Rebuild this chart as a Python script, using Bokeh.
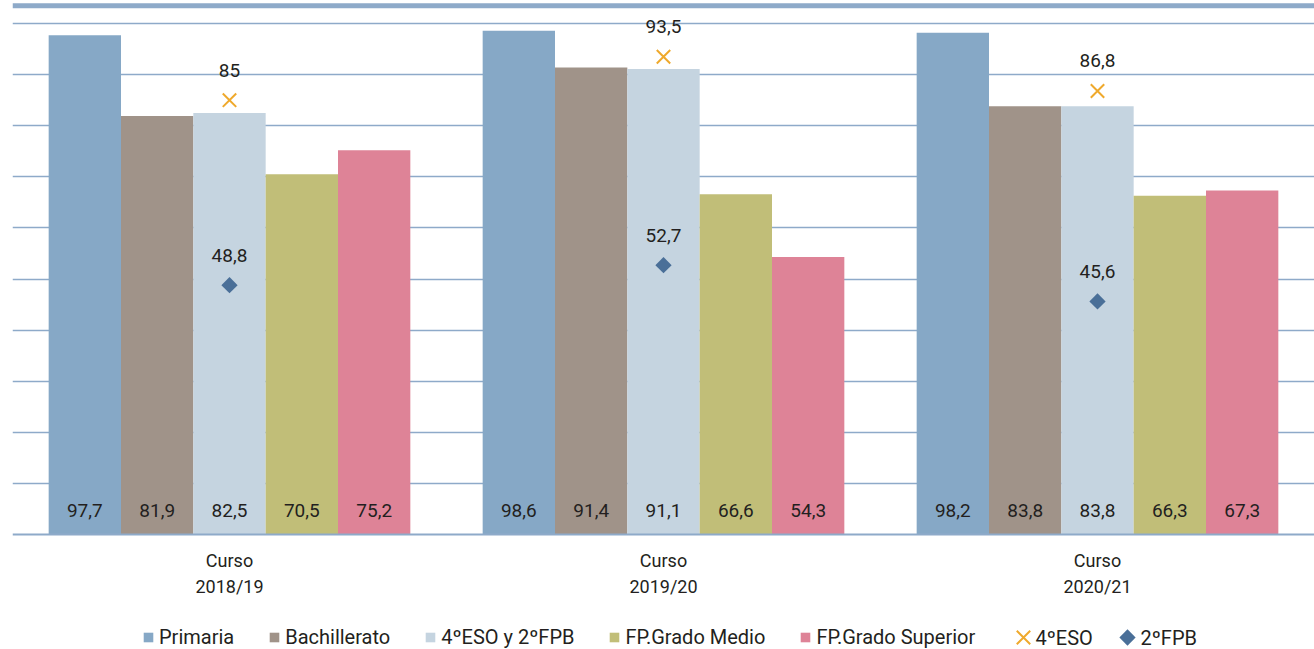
import math
from bokeh.plotting import figure
from bokeh.models import (ColumnDataSource, FixedTicker, Span, Legend, LegendItem)
from bokeh.core.properties import value
from bokeh.embed import file_html
from bokeh.resources import INLINE

# ---- data ----
course_top = ["Curso", "Curso", "Curso"]
course_bottom = ["2018/19", "2019/20", "2020/21"]
series = ["Primaria", "Bachillerato", "4ºESO y 2ºFPB", "FP.Grado Medio", "FP.Grado Superior"]
primaria = [97.7, 98.6, 98.2]
bachillerato = [81.9, 91.4, 83.8]
eso_fpb = [82.5, 91.1, 83.8]
fp_medio = [70.5, 66.6, 66.3]
fp_superior = [75.2, 54.3, 67.3]
eso4 = [85, 93.5, 86.8]
fpb2 = [48.8, 52.7, 45.6]
marker_series = ["4ºESO", "2ºFPB"]

colors = ["#86a8c6", "#a09389", "#c5d4e0", "#c1be78", "#de8397"]
x_color = "#efa92c"
d_color = "#4a6f98"
grid_color = "#8eaac9"
txt_color = "#231f20"
FONT = "Roboto"

def fmt(v):
    if float(v).is_integer():
        return str(int(v))
    return f"{v:.1f}".replace(".", ",")

W, H = 1314, 649
LEFT = 12
PX = 5.11            # pixels per unit
BASE = 534           # baseline pixel from top of figure
y_top = BASE / PX
y_bot = -(H - BASE) / PX

def sx(px):  # screen px -> data x (layout helper for legend)
    return (px - LEFT) / (W - LEFT) * 3

def sy(py):  # screen px -> data y (layout helper for legend)
    return (BASE - py) / PX

p = figure(width=W, height=H, output_backend="svg", toolbar_location=None,
           x_range=(0, 3), y_range=(y_bot, y_top),
           min_border_left=LEFT, min_border_right=0, min_border_top=0, min_border_bottom=0)
p.outline_line_color = None
p.xaxis.visible = False
p.yaxis.visible = False
p.xgrid.grid_line_color = None
p.ygrid.ticker = FixedTicker(ticks=list(range(10, 101, 10)))
p.ygrid.grid_line_color = grid_color
p.ygrid.grid_line_width = 1.6

p.add_layout(Span(location=(BASE - 5.2) / PX, dimension="width", line_color=grid_color, line_width=5))

bw = 1 / 6
all_vals = [primaria, bachillerato, eso_fpb, fp_medio, fp_superior]
bar_renderers = []
for i, (name, vals, col) in enumerate(zip(series, all_vals, colors)):
    xs = [k + 0.5 + (i - 2) * bw for k in range(3)]
    src = ColumnDataSource(dict(x=xs, top=vals, lab=[fmt(v) for v in vals]))
    r = p.vbar(x="x", top="top", width=bw, bottom=0, source=src,
               fill_color=col, line_color=None)
    bar_renderers.append(r)
    p.text(x="x", y=0, text="lab", source=src, text_align="center",
           text_baseline="middle", y_offset=-24, text_font=value(FONT),
           text_font_size="19px", text_color=txt_color)

# baseline
p.add_layout(Span(location=0, dimension="width", line_color=grid_color, line_width=2))

mx = [k + 0.5 for k in range(3)]
src_x = ColumnDataSource(dict(x=mx, y=eso4, lab=[fmt(v) for v in eso4]))
src_d = ColumnDataSource(dict(x=mx, y=fpb2, lab=[fmt(v) for v in fpb2]))
rx = p.scatter(x="x", y="y", source=src_x, marker="x", size=19,
               line_color=x_color, line_width=2)
rd = p.scatter(x="x", y="y", source=src_d, marker="square", size=11.5, angle=math.pi / 4,
               fill_color=d_color, line_color=None)
for s in (src_x, src_d):
    p.text(x="x", y="y", text="lab", source=s, text_align="center",
           text_baseline="middle", y_offset=-30, text_font=value(FONT),
           text_font_size="19px", text_color=txt_color)

# category labels
src_c = ColumnDataSource(dict(x=mx, a=course_top, b=course_bottom))
p.text(x="x", y=0, text="a", source=src_c, text_align="center", text_baseline="middle",
       y_offset=26, text_font=value(FONT), text_font_size="18px", text_color=txt_color)
p.text(x="x", y=0, text="b", source=src_c, text_align="center", text_baseline="middle",
       y_offset=52, text_font=value(FONT), text_font_size="18px", text_color=txt_color)

# legend for bars
leg1 = Legend(items=[LegendItem(label=n, renderers=[r]) for n, r in zip(series, bar_renderers)],
              location=(142 - LEFT, 0), glyph_width=12, glyph_height=12,
              label_standoff=5, spacing=34, orientation="horizontal",
              label_text_font=FONT, label_text_font_size="20px",
              label_text_color=txt_color, border_line_color=None, padding=0, margin=0,
              background_fill_alpha=0)
p.add_layout(leg1)

# legend entries for the two marker series (drawn as glyphs at legend position)
LEG_Y = 637
p.scatter(x=[sx(1023)], y=[sy(LEG_Y)], marker="x", size=19, line_color=x_color, line_width=2)
p.scatter(x=[sx(1127)], y=[sy(LEG_Y)], marker="square", size=11.5, angle=math.pi / 4,
          fill_color=d_color, line_color=None)
src_lm = ColumnDataSource(dict(x=[sx(1035), sx(1140)], y=[sy(LEG_Y), sy(LEG_Y)], t=marker_series))
p.text(x="x", y="y", text="t", source=src_lm, text_align="left", text_baseline="middle",
       text_font=value(FONT), text_font_size="20px", text_color=txt_color)

open("out.html", "w").write(file_html(p, INLINE))
